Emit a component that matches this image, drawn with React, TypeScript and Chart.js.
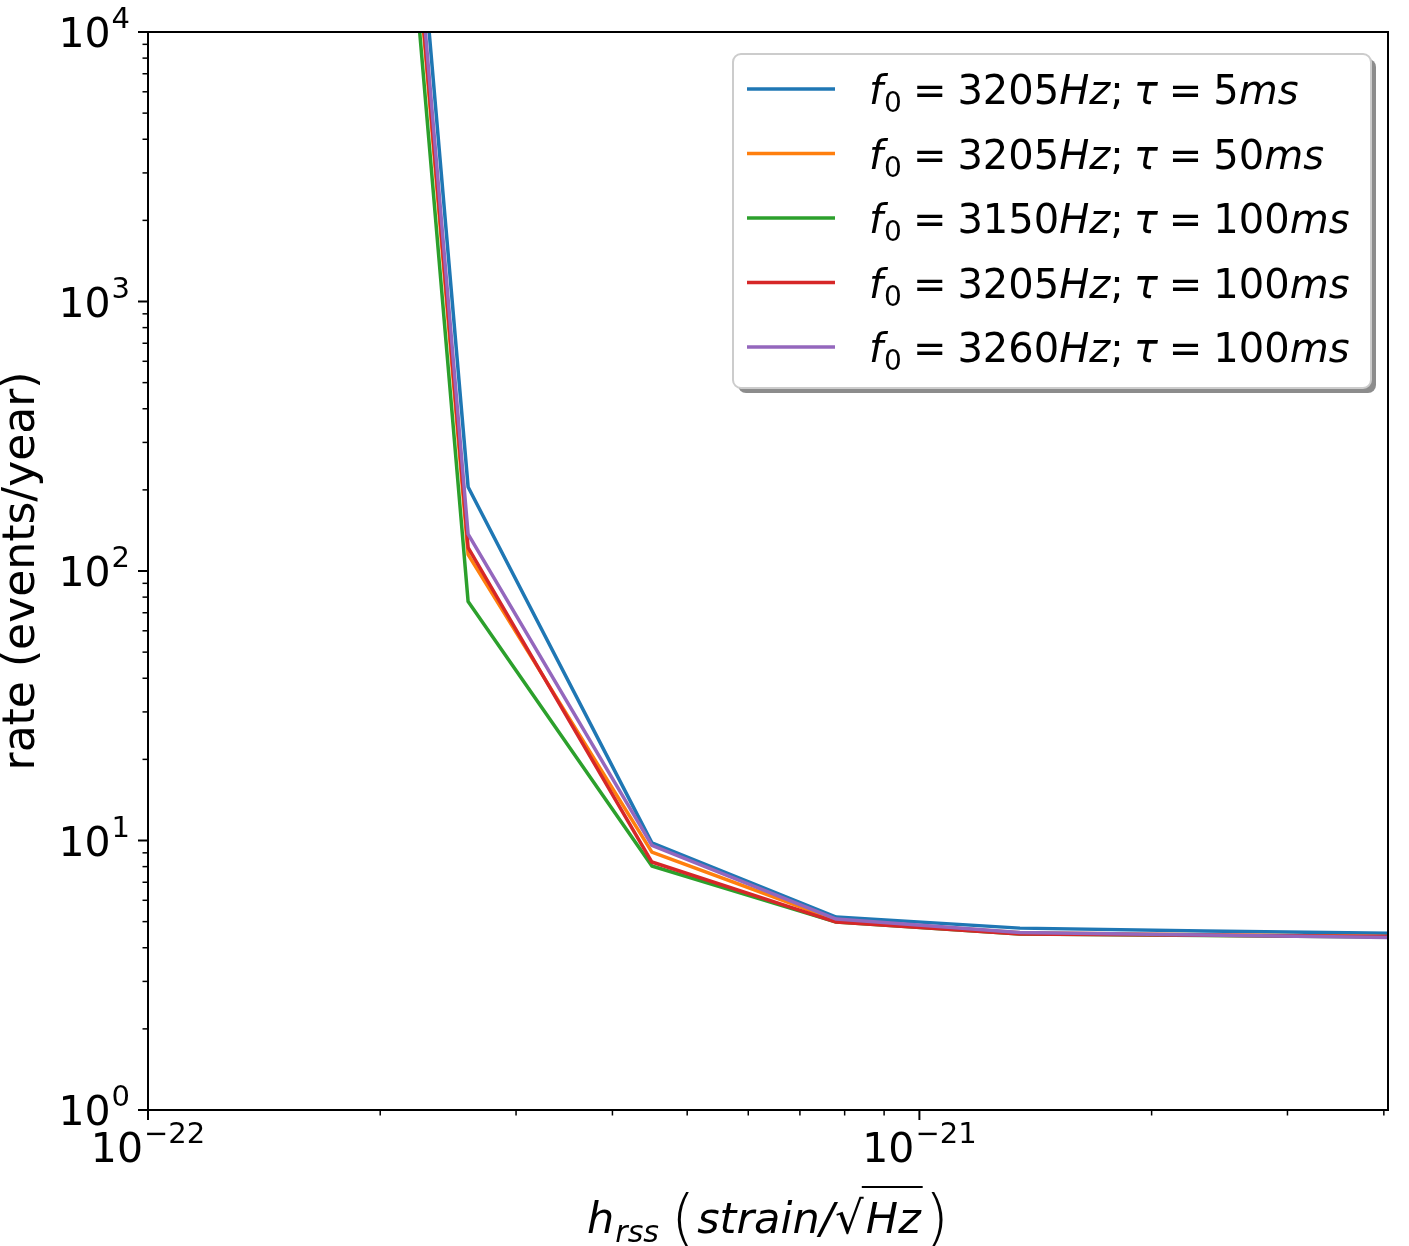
import { useEffect, useRef } from 'react'
import {
  Chart,
  LineController,
  LineElement,
  PointElement,
  LogarithmicScale,
  type Plugin,
} from 'chart.js'

Chart.register(LineController, LineElement, PointElement, LogarithmicScale)

// hrss values (strain/sqrt(Hz))
const hrss = [1.5e-22, 2.6e-22, 4.5e-22, 7.8e-22, 1.35e-21, 2.34e-21, 4.05e-21]

// legend parameters
const f0 = [3205, 3205, 3150, 3205, 3260]
const tau = [5, 50, 100, 100, 100]

// rate (events/year) per series
const rate3205tau5 = [2.0e10, 205, 9.8, 5.2, 4.73, 4.62, 4.53]
const rate3205tau50 = [1.25e10, 115, 9.06, 5.07, 4.55, 4.47, 4.4]
const rate3150tau100 = [8.5e9, 77, 8.04, 4.98, 4.5, 4.44, 4.38]
const rate3205tau100 = [1.25e10, 122, 8.32, 4.98, 4.5, 4.45, 4.4]
const rate3260tau100 = [1.5e10, 137, 9.6, 5.11, 4.56, 4.46, 4.37]

const colors = ['#1f77b4', '#ff7f0e', '#2ca02c', '#d62728', '#9467bd']

// axis limits and decade labels
const xMin = 1e-22
const xMax = 4.05e-21
const yMin = 1
const yMax = 1e4
const xTickExps = [-22, -21]
const yTickExps = [0, 1, 2, 3, 4]

const FAM = '"DejaVu Sans", sans-serif'
const up = (px: number) => `${px}px ${FAM}`
const it = (px: number) => `italic ${px}px ${FAM}`

type Run = { t: string; font: string; dy?: number; before?: number; after?: number }

function runs(ctx: CanvasRenderingContext2D, list: Run[], x0: number, y: number, draw: boolean) {
  let x = x0
  const marks: number[] = []
  for (const r of list) {
    x += r.before ?? 0
    marks.push(x)
    ctx.font = r.font
    if (draw) ctx.fillText(r.t, x, y + (r.dy ?? 0))
    x += ctx.measureText(r.t).width
    marks.push(x)
    x += r.after ?? 0
  }
  return { width: x - x0, marks }
}

function powRuns(exp: number): Run[] {
  const e = exp < 0 ? '\u2212' + String(-exp) : String(exp)
  return [
    { t: '10', font: up(41) },
    { t: e, font: up(29), dy: -19, before: 1 },
  ]
}

function minorValues(min: number, max: number) {
  const out: { v: number; major: boolean }[] = []
  for (let e = Math.floor(Math.log10(min)); e <= Math.ceil(Math.log10(max)); e++) {
    for (let m = 1; m <= 9; m++) {
      const v = m * Math.pow(10, e)
      if (v >= min * (1 - 1e-9) && v <= max * (1 + 1e-9)) out.push({ v, major: m === 1 })
    }
  }
  return out
}

const frame: Plugin<'line'> = {
  id: 'frame',
  afterDraw(chart) {
    const ctx = chart.ctx
    const { left, right, top, bottom } = chart.chartArea
    const xs = chart.scales.x
    const ys = chart.scales.y
    ctx.save()
    ctx.strokeStyle = '#000'
    ctx.fillStyle = '#000'

    // tick marks
    for (const t of minorValues(xs.min, xs.max)) {
      const px = xs.getPixelForValue(t.v)
      ctx.lineWidth = t.major ? 2 : 1.5
      ctx.beginPath()
      ctx.moveTo(px, bottom)
      ctx.lineTo(px, bottom + (t.major ? 10 : 5.5))
      ctx.stroke()
    }
    for (const t of minorValues(ys.min, ys.max)) {
      const py = ys.getPixelForValue(t.v)
      ctx.lineWidth = t.major ? 2 : 1.5
      ctx.beginPath()
      ctx.moveTo(left, py)
      ctx.lineTo(left - (t.major ? 10 : 5.5), py)
      ctx.stroke()
    }

    // spines
    ctx.lineWidth = 2
    ctx.strokeRect(left, top, right - left, bottom - top)

    // tick labels
    ctx.textAlign = 'left'
    ctx.textBaseline = 'alphabetic'
    for (const e of yTickExps) {
      const py = ys.getPixelForValue(Math.pow(10, e))
      const r = powRuns(e)
      const w = runs(ctx, r, 0, 0, false).width
      runs(ctx, r, left - 18 - w, py + 15, true)
    }
    for (const e of xTickExps) {
      const px = xs.getPixelForValue(Math.pow(10, e))
      const r = powRuns(e)
      const w = runs(ctx, r, 0, 0, false).width
      runs(ctx, r, px - w / 2, bottom + 52, true)
    }

    // y title
    ctx.save()
    ctx.translate(23, (top + bottom) / 2)
    ctx.rotate(-Math.PI / 2)
    ctx.font = up(44)
    ctx.textAlign = 'center'
    ctx.textBaseline = 'middle'
    ctx.fillText('rate (events/year)', 0, 0)
    ctx.restore()

    // x title: h_rss (strain/sqrt(Hz))
    const xt: Run[] = [
      { t: 'h', font: it(43) },
      { t: 'rss', font: it(30), dy: 9, before: 1 },
      { t: '(', font: `200 62px ${FAM}`, dy: 6, before: 12 },
      { t: 'strain/', font: it(43), before: 2 },
      { t: '\u221a', font: up(45), before: 1 },
      { t: 'Hz', font: it(43), before: 2 },
      { t: ')', font: `200 62px ${FAM}`, dy: 6, before: 4 },
    ]
    const base = 1233
    const xw = runs(ctx, xt, 0, 0, false).width
    const cx = (left + right) / 2
    const { marks } = runs(ctx, xt, cx - xw / 2, base, true)
    ctx.lineWidth = 2
    ctx.beginPath()
    ctx.moveTo(marks[9] - 2, base - 46)
    ctx.lineTo(marks[11] + 2, base - 46)
    ctx.stroke()

    // legend
    const lx = 733, ly = 54, lw = 638, lh = 334
    ctx.fillStyle = 'rgba(0,0,0,0.45)'
    ctx.beginPath()
    ctx.roundRect(lx + 5, ly + 5, lw, lh, 8)
    ctx.fill()
    ctx.fillStyle = '#fff'
    ctx.strokeStyle = '#cccccc'
    ctx.lineWidth = 2
    ctx.beginPath()
    ctx.roundRect(lx, ly, lw, lh, 8)
    ctx.fill()
    ctx.stroke()
    chart.data.datasets.forEach((ds, i) => {
      const rowY = 89 + i * 64.5
      ctx.strokeStyle = ds.borderColor as string
      ctx.lineWidth = 3.5
      ctx.beginPath()
      ctx.moveTo(747, rowY)
      ctx.lineTo(835, rowY)
      ctx.stroke()
      ctx.fillStyle = '#000'
      const lr: Run[] = [
        { t: 'f', font: it(40) },
        { t: '0', font: up(28), dy: 8, before: 1 },
        { t: '=', font: up(40), before: 11, after: 11 },
        { t: String(f0[i]), font: up(40) },
        { t: 'Hz', font: it(40) },
        { t: ';', font: up(40), after: 10 },
        { t: '\u03c4', font: it(40) },
        { t: '=', font: up(40), before: 11, after: 11 },
        { t: String(tau[i]), font: up(40) },
        { t: 'ms', font: it(40) },
      ]
      runs(ctx, lr, 869, rowY + 15, true)
    })
    ctx.restore()
  },
}

const series = [rate3205tau5, rate3205tau50, rate3150tau100, rate3205tau100, rate3260tau100]

export default function App() {
  const canvasRef = useRef<HTMLCanvasElement>(null)
  const chartRef = useRef<Chart<'line'> | null>(null)

  useEffect(() => {
    if (!canvasRef.current) return
    chartRef.current = new Chart(canvasRef.current, {
      type: 'line',
      data: {
        datasets: series.map((s, i) => ({
          label: `f0 = ${f0[i]}Hz; \u03c4 = ${tau[i]}ms`,
          data: hrss.map((x, k) => ({ x, y: s[k] })),
          borderColor: colors[i],
          backgroundColor: colors[i],
          borderWidth: 3.5,
          borderJoinStyle: 'round' as const,
          pointRadius: 0,
          fill: false,
          tension: 0,
          order: series.length - 1 - i,
        })),
      },
      options: {
        responsive: true,
        maintainAspectRatio: false,
        animation: false,
        events: [],
        layout: { padding: { top: 32, right: 21, left: 0, bottom: 0 } },
        scales: {
          x: {
            type: 'logarithmic',
            min: xMin,
            max: xMax,
            ticks: { display: false },
            grid: { display: false },
            border: { display: false },
            afterFit: (s) => { s.height = 136 },
          },
          y: {
            type: 'logarithmic',
            min: yMin,
            max: yMax,
            ticks: { display: false },
            grid: { display: false },
            border: { display: false },
            afterFit: (s) => { s.width = 148 },
          },
        },
      },
      plugins: [frame],
    })
    return () => { chartRef.current?.destroy(); chartRef.current = null }
  }, [])

  return (
    <div style={{ position: 'absolute', left: 0, top: 0, width: 1409, height: 1246, background: '#fff' }}>
      <canvas ref={canvasRef} />
    </div>
  )
}
